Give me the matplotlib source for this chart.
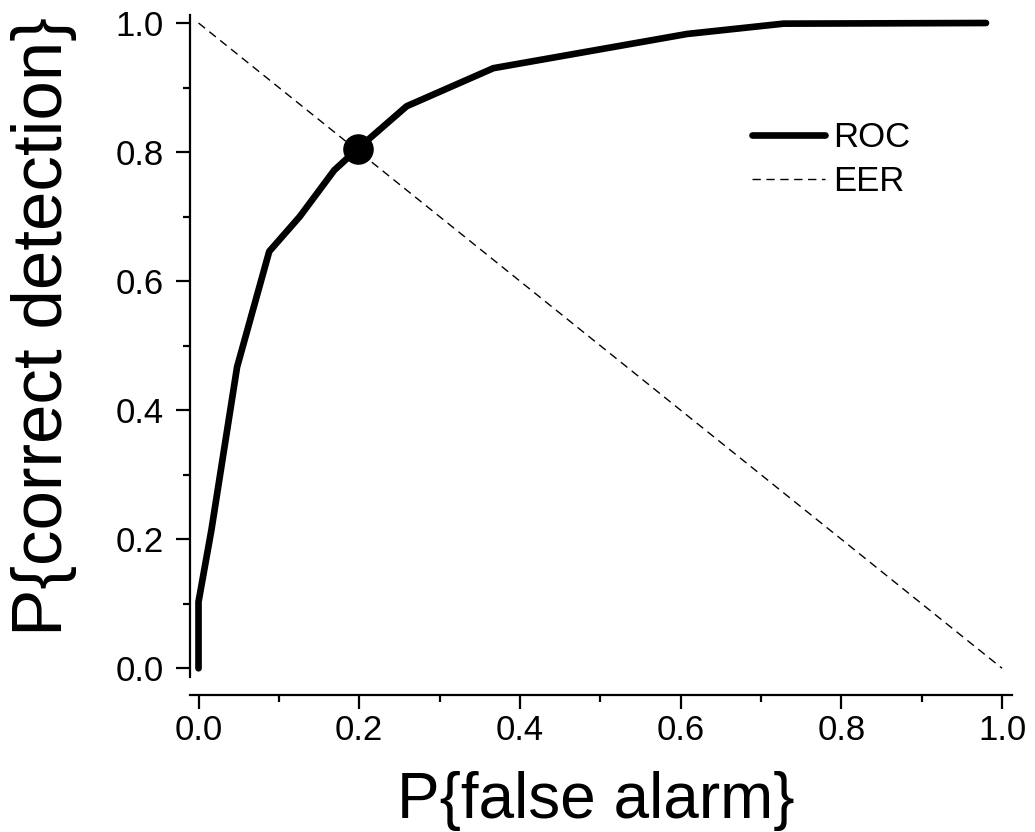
import matplotlib
matplotlib.use("Agg")
import matplotlib.pyplot as plt
from matplotlib.ticker import MultipleLocator

# === Data ===
roc_fa = [0.0, 0.0, 0.016, 0.048, 0.088, 0.126, 0.169, 0.198, 0.259, 0.367, 0.608, 0.728, 0.98]
roc_pd = [0.0, 0.103, 0.214, 0.467, 0.646, 0.700, 0.772, 0.805, 0.871, 0.930, 0.983, 0.999, 1.0]
eer_fa = [0.0, 1.0]
eer_pd = [1.0, 0.0]
eer_point = (0.198, 0.804)

x_ticks = [0.0, 0.2, 0.4, 0.6, 0.8, 1.0]
y_ticks = [0.0, 0.2, 0.4, 0.6, 0.8, 1.0]

plt.rcParams['font.family'] = ['Liberation Sans', 'DejaVu Sans']

W, H = 1035, 832
fig = plt.figure(figsize=(W / 100, H / 100), dpi=100)
ax = fig.add_axes([190 / W, (H - 677) / H, 821.7 / W, 662 / H])

ax.plot(roc_fa, roc_pd, color='black', lw=4.8, solid_capstyle='round',
        solid_joinstyle='round', label='ROC', zorder=3)
ax.plot(eer_fa, eer_pd, color='black', lw=1.0, dashes=(6, 4), label='EER', zorder=2)
ax.plot([eer_point[0]], [eer_point[1]], 'o', color='black', ms=21, zorder=4)

ax.set_xlim(-0.0106, 1.012)
ax.set_ylim(-0.0135, 1.0124)

ax.set_xticks(x_ticks)
ax.set_yticks(y_ticks)
ax.set_xticklabels([f"{v:.1f}" for v in x_ticks])
ax.set_yticklabels([f"{v:.1f}" for v in y_ticks])
ax.xaxis.set_minor_locator(MultipleLocator(0.1))
ax.yaxis.set_minor_locator(MultipleLocator(0.1))

for s in ['top', 'right']:
    ax.spines[s].set_visible(False)
ax.spines['left'].set_linewidth(1.6)
ax.spines['bottom'].set_linewidth(1.6)
ax.spines['bottom'].set_position(('outward', 13))

ax.tick_params(which='major', length=10, width=1.6, labelsize=25)
ax.tick_params(which='minor', length=5, width=1.6)
ax.tick_params(axis='x', which='major', pad=4)
ax.tick_params(axis='y', which='major', pad=9)

ax.set_xlabel('P{false alarm}', fontsize=46)
ax.set_ylabel('P{correct detection}', fontsize=51)
ax.xaxis.set_label_coords(0.494, -0.142)
ax.yaxis.set_label_coords(-0.137, 0.529)

ax.legend(loc='upper left', bbox_to_anchor=(752 / W, (H - 121) / H),
          bbox_transform=fig.transFigure, frameon=False, fontsize=25,
          handlelength=2.1, handletextpad=0.25, labelspacing=0.31,
          borderpad=0, borderaxespad=0)

fig.savefig('out.png', dpi=100)
